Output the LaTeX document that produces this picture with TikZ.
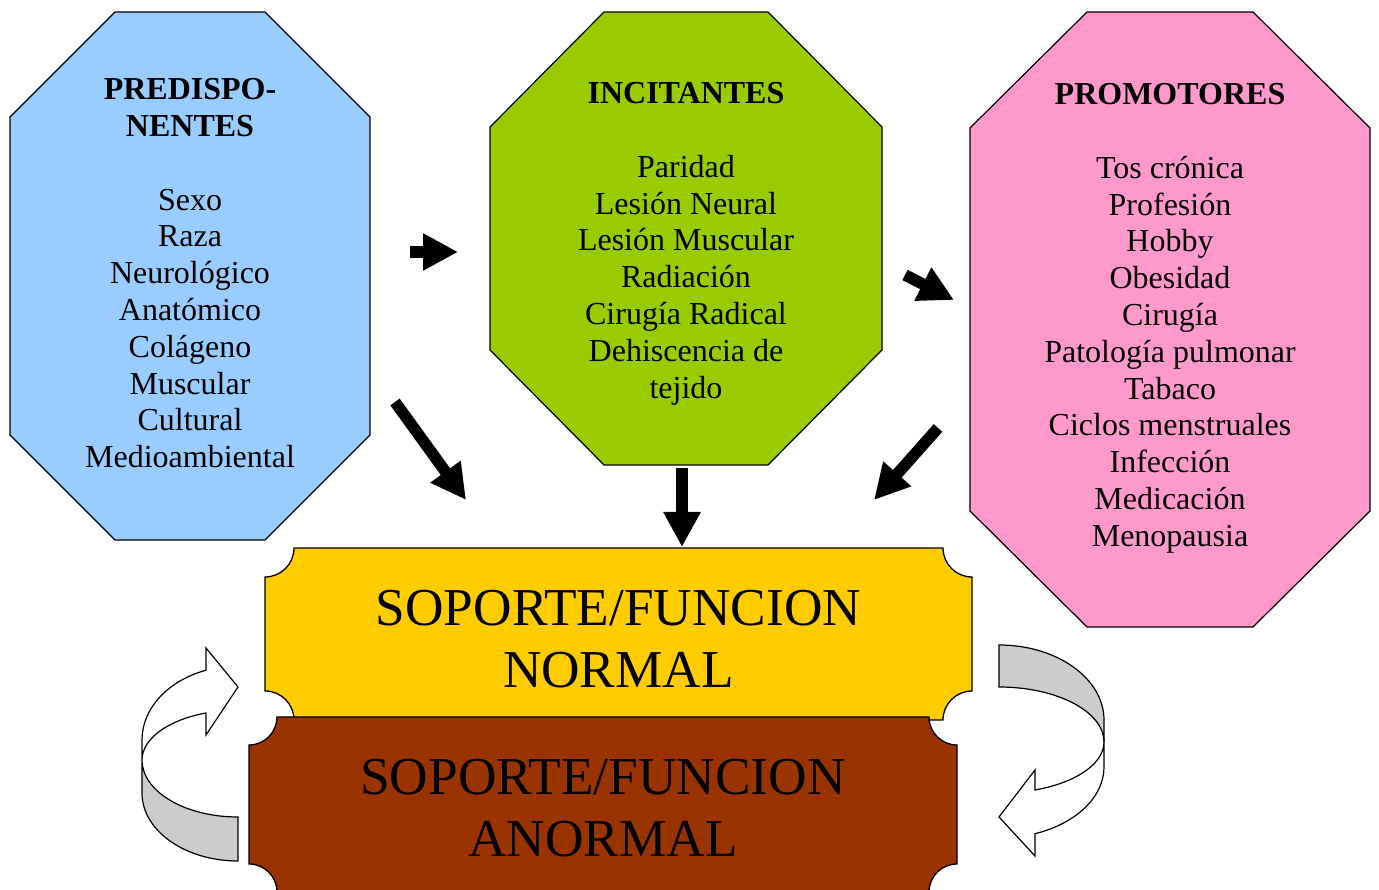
\documentclass[tikz,border=0pt]{standalone}
\usepackage{fontspec}
\setmainfont{Liberation Serif}
\definecolor{predblue}{RGB}{153,204,255}
\definecolor{incgreen}{RGB}{153,204,0}
\definecolor{prompink}{RGB}{255,153,204}
\definecolor{okyellow}{RGB}{255,204,0}
\definecolor{badbrown}{RGB}{153,51,0}
\definecolor{bandgray}{RGB}{204,204,204}
\usetikzlibrary{arrows.meta}
% octagon round a box node: node, x cut, y cut, fill
\newcommand{\octagon}[4]{\draw[octoline, fill=#4] ([xshift=#2]#1.north west) -- ([xshift=-#2]#1.north east)
  -- ([yshift=-#3]#1.north east) -- ([yshift=#3]#1.south east) -- ([xshift=-#2]#1.south east)
  -- ([xshift=#2]#1.south west) -- ([yshift=#3]#1.south west) -- ([yshift=-#3]#1.north west) -- cycle;}
% plaque with concave corners: style, x1, y1, x2, y2, radius
\newcommand{\plaque}[6]{\draw[#1] (#2+#6,#5) -- (#4-#6,#5) arc[start angle=180,end angle=270,radius=#6pt]
  -- (#4,#3+#6) arc[start angle=90,end angle=180,radius=#6pt]
  -- (#2+#6,#3) arc[start angle=0,end angle=90,radius=#6pt]
  -- (#2,#5-#6) arc[start angle=270,end angle=360,radius=#6pt] -- cycle;}

\begin{document}
\begin{tikzpicture}[x=1pt,y=1pt,
    octobox/.style={inner sep=0pt, outer sep=0pt},
    octoline/.style={draw, line width=1.2pt},
    octotext/.style={align=center, inner sep=0pt, font=\fontsize{32}{36.8}\selectfont},
    plaquebox/.style={draw, line width=1.3pt},
    plaquetext/.style={align=center, inner sep=0pt, font=\fontsize{53.3}{61.3}\selectfont},
    fatarrow/.style={line width=11.5pt, -{Triangle[length=35pt,width=35pt]}},
    uturn/.style={draw, line width=1.2pt, line join=miter}]
\useasboundingbox (0,0) rectangle (1379,890);
\fill[white] (0,0) rectangle (1379,890);

% the three groups of factors
\node[octobox, minimum width=360pt, minimum height=528pt] (predis) at (190,614) {};
\node[octobox, minimum width=392pt, minimum height=453pt] (incit) at (686,651.5) {};
\node[octobox, minimum width=400pt, minimum height=615pt] (promot) at (1170,570.5) {};
\octagon{predis}{105pt}{105pt}{predblue}
\octagon{incit}{114pt}{115pt}{incgreen}
\octagon{promot}{117pt}{116pt}{prompink}

\node[octotext] (predistxt) at ([yshift=2.7pt]predis.center) {\textbf{PREDISPO-}\\\textbf{NENTES}\\[36.8pt]
  Sexo\\Raza\\Neurológico\\Anatómico\\Colágeno\\Muscular\\Cultural\\Medioambiental};
\node[octotext] (incittxt) at ([yshift=-5.3pt]incit.center) {\textbf{INCITANTES}\\[36.8pt]
  Paridad\\Lesión Neural\\Lesión Muscular\\Radiación\\Cirugía Radical\\Dehiscencia de\\tejido};
\node[octotext] (promottxt) at ([yshift=1.1pt]promot.center) {\textbf{PROMOTORES}\\[36.8pt]
  Tos crónica\\Profesión\\Hobby\\Obesidad\\Cirugía\\Patología pulmonar\\Tabaco\\Ciclos menstruales\\Infección\\Medicación\\Menopausia};

% support / function plaques
\plaque{plaquebox, fill=okyellow}{265}{170}{972}{342}{29}
\plaque{plaquebox, fill=badbrown}{249}{-2}{957}{173}{28}
\node[plaquetext] (normal) at (618.5,251) {SOPORTE/FUNCION\\NORMAL};
\node[plaquetext] (anormal) at (603,82) {SOPORTE/FUNCION\\ANORMAL};

% block arrows
\coordinate (predinc) at (410,638);
\coordinate (incpred) at (458,638);
\coordinate (incprom) at (905,615);
\coordinate (promin) at (954,590);
\coordinate (predout) at (395,488);
\coordinate (normalnw) at (466,390);
\coordinate (incout) at (682,422);
\coordinate (normaln) at (682,343);
\coordinate (promout) at (938,462);
\coordinate (normalne) at (874,390);
\draw[fatarrow] (predinc) -- (incpred);
\draw[fatarrow] (incprom) -- (promin);
\draw[fatarrow] (predout) -- (normalnw);
\draw[fatarrow] (incout) -- (normaln);
\draw[fatarrow] (promout) -- (normalne);

% left u-turn arrow
\draw[uturn, fill=bandgray] (238,73) -- (238,29) arc[start angle=270,end angle=180,x radius=96pt,y radius=68pt]
  -- (142,130) arc[start angle=180,end angle=270,x radius=96pt,y radius=57pt] -- cycle;
\draw[uturn, fill=white] (142,130) -- (142,150) arc[start angle=180,end angle=109.47,x radius=96pt,y radius=74pt]
  -- (206,242) -- (238,203) -- (206,155) -- (206,177)
  arc[start angle=109.47,end angle=180,x radius=96pt,y radius=50pt] -- cycle;

% right u-turn arrow
\draw[uturn, fill=bandgray] (999,203) -- (999,245) arc[start angle=90,end angle=0,x radius=105pt,y radius=75pt]
  -- (1104,148) arc[start angle=0,end angle=90,x radius=105pt,y radius=55pt] -- cycle;
\draw[uturn, fill=white] (1104,148) -- (1104,123) arc[start angle=0,end angle=-69.93,x radius=105pt,y radius=71pt]
  -- (1035,34) -- (999,73) -- (1035,120) -- (1035,100)
  arc[start angle=-69.93,end angle=0,x radius=105pt,y radius=51pt] -- cycle;
\end{tikzpicture}
\end{document}
